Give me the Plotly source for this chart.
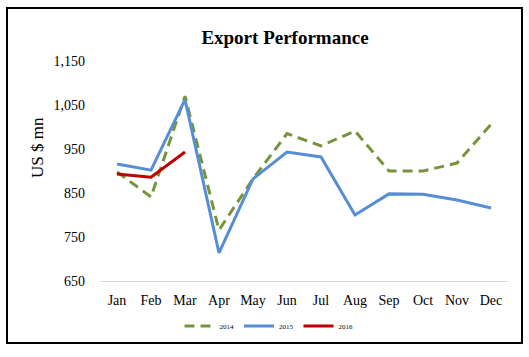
import plotly.graph_objects as go

months = ["Jan", "Feb", "Mar", "Apr", "May", "Jun", "Jul", "Aug", "Sep", "Oct", "Nov", "Dec"]
exports_2014 = [898, 841, 1070, 766, 882, 985, 957, 991, 900, 900, 918, 1006]
exports_2015 = [916, 902, 1062, 714, 882, 943, 932, 800, 848, 847, 834, 816]
exports_2016 = [893, 886, 943]
y_ticks = [650, 750, 850, 950, 1050, 1150]

FONT = "Liberation Serif"
W, H = 529, 357
L, R, T, B = 100, 21, 61, 76
pw, ph = W - L - R, H - T - B

def px(x):
    return (x - L) / pw

def py(y):
    return (H - B - y) / ph

fig = go.Figure()
fig.add_trace(go.Scatter(x=months, y=exports_2014, name="2014", mode="lines",
                         line=dict(color="#77933C", width=3, dash="10px,6px")))
fig.add_trace(go.Scatter(x=months, y=exports_2015, name="2015", mode="lines",
                         line=dict(color="#558ED5", width=3)))
fig.add_trace(go.Scatter(x=months[:len(exports_2016)], y=exports_2016, name="2016", mode="lines",
                         line=dict(color="#C00000", width=3)))

fig.update_layout(
    width=W, height=H, autosize=False,
    margin=dict(l=L, r=R, t=T, b=B),
    paper_bgcolor="white", plot_bgcolor="white",
    font=dict(family=FONT, color="#000000"),
    title=dict(text="<b>Export Performance</b>", x=px(285), xref="paper", xanchor="center",
               y=1 - 37 / H, yanchor="middle", font=dict(size=19, family=FONT, color="#000")),
    showlegend=True,
    legend=dict(orientation="h", x=px(269), xanchor="center", y=py(326), yanchor="middle",
                font=dict(size=7, family=FONT), itemwidth=30, bgcolor="rgba(0,0,0,0)"),
    shapes=[dict(type="rect", xref="paper", yref="paper", x0=px(7), x1=px(522), y0=py(343), y1=py(8),
                 line=dict(color="black", width=2), fillcolor="rgba(0,0,0,0)", layer="below")],
    annotations=[dict(text="US $ mn", xref="paper", yref="paper", x=px(37), y=py(148),
                      textangle=-90, showarrow=False, font=dict(size=17, family=FONT),
                      xanchor="center", yanchor="middle")],
)
fig.update_xaxes(range=[-0.5, len(months) - 0.5], showgrid=False, showline=True,
                 linecolor="#D9D9D9", linewidth=1,
                 ticks="", tickfont=dict(size=14, family=FONT), ticklabelstandoff=6)
fig.update_yaxes(range=[650, 1150], tickvals=y_ticks, tickformat=",", showgrid=False,
                 zeroline=False, showline=False, ticks="",
                 tickfont=dict(size=14, family=FONT), ticklabelstandoff=14)

fig.write_html("out.html", config={"displayModeBar": False},
               post_script="document.body.style.margin='0';document.body.style.overflow='hidden';")
